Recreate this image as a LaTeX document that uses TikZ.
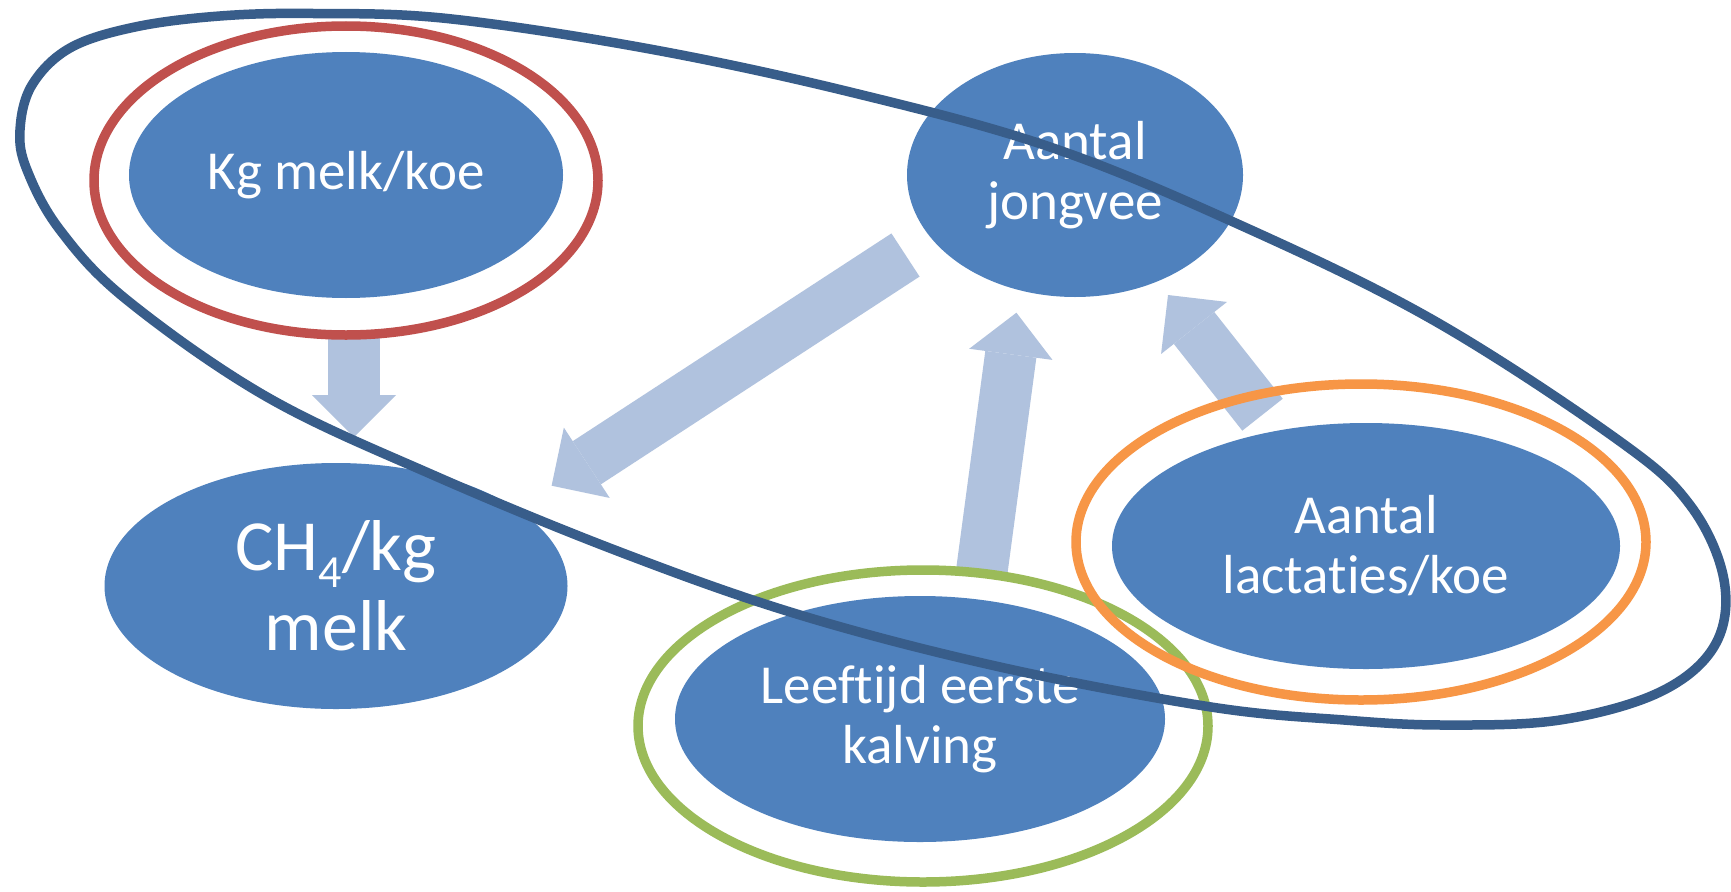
\documentclass[tikz,border=0pt]{standalone}
\usepackage{fontspec}
\setmainfont{Carlito}[Ligatures={NoCommon}]
\usetikzlibrary{arrows.meta,shapes.geometric}
\definecolor{blobfill}{HTML}{4F81BD}
\definecolor{navyline}{HTML}{385D8A}
\definecolor{redring}{HTML}{C0504D}
\definecolor{greenring}{HTML}{9BBB59}
\definecolor{orangering}{HTML}{F79646}
\definecolor{arrowfill}{HTML}{B0C2DE}
\begin{document}
\begin{tikzpicture}[x=1pt,y=-1pt,
  blob/.style={ellipse, fill=blobfill, text=white, inner sep=0pt, align=center,
    font=\fontsize{55}{60}\selectfont},
  ring/.style={ellipse, draw, line width=9.5pt, inner sep=0pt},
  blockarrow/.style={draw=arrowfill, line width=51.5pt,
    -{Triangle[length=42pt,width=84pt,line width=0pt,fill=arrowfill]}},
  loopline/.style={draw=navyline, line width=9.5pt}
]
\useasboundingbox (0,0) rectangle (1731,891);
\fill[white] (0,0) rectangle (1731,891);

% blue ellipses
\node[blob, minimum width=434pt, minimum height=246pt] (kg) at (346,175) {Kg melk/koe};
\node[blob, minimum width=336pt, minimum height=244pt] (jong) at (1075,175) {Aantal\\jongvee};
\node[blob, minimum width=463pt, minimum height=246pt, font=\fontsize{72}{80}\selectfont] (ch4) at (336,586)
  {CH\raisebox{-17pt}{\fontsize{46}{46}\selectfont 4}/kg\\melk};
\node[blob, minimum width=490pt, minimum height=246pt] (leef) at (920,719) {Leeftijd eerste\\kalving};
\node[blob, minimum width=508pt, minimum height=246pt] (lact) at (1366,546) {Aantal\\lactaties/koe};

% block arrows
\coordinate (a1t) at (354,333);  \coordinate (a1h) at (354,437);
\coordinate (a2t) at (905.5,255); \coordinate (a2h) at (551.6,485.7);
\coordinate (a3t) at (981.7,572); \coordinate (a3h) at (1016.4,312.7);
\coordinate (a4t) at (1262.5,414.7); \coordinate (a4h) at (1168,295);
\draw[blockarrow] (a1t) -- (a1h);
\draw[blockarrow] (a2t) -- (a2h);
\draw[blockarrow] (a3t) -- (a3h);
\draw[blockarrow] (a4t) -- (a4h);

% rings
\node[ring, draw=redring, minimum width=504pt, minimum height=309pt] (redr) at (346,180.5) {};
\node[ring, draw=greenring, minimum width=570pt, minimum height=312pt] (greenr) at (923,726) {};
\node[ring, draw=orangering, minimum width=570pt, minimum height=316pt] (oranger) at (1361,542) {};

% big navy loop
\draw[loopline] plot[smooth cycle, tension=0.6] coordinates {
 (313,13.5) (447,18.5) (647,48.5) (850,92) (1050,147) (1240,225) (1433,320)
 (1618,440) (1690,505) (1724,580) (1715,645) (1660,692) (1560,720) (1444,725)
 (1344,720) (1211,707) (1000,667) (800,615) (620,552) (433,475) (267,397)
 (127,300) (60,230) (27,170) (20,130) (32,85) (70,48) (135,27) (220,16)};
\end{tikzpicture}
\end{document}
